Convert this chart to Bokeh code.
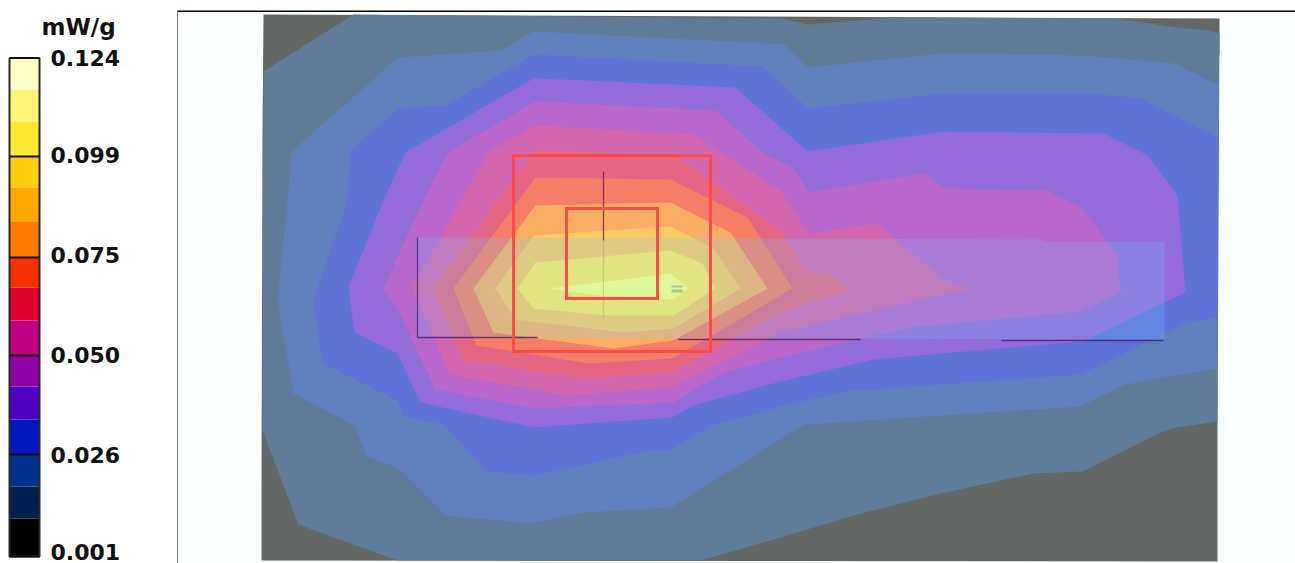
from bokeh.plotting import figure
from bokeh.layouts import row
from bokeh.models import Range1d, Span
from bokeh.core.properties import value
from bokeh.embed import file_html
from bokeh.resources import INLINE

# colour scale (mW/g)
band_edges = [0.12400, 0.11623, 0.10833, 0.09970, 0.09205, 0.08353, 0.07478, 0.06737,
              0.05923, 0.05059, 0.04295, 0.03480, 0.02617, 0.01827, 0.01037, 0.00100]
band_colors = ["#FFFFC8", "#FFF578", "#FFE830", "#FFCC10", "#FFA800", "#FF7800", "#F83000",
               "#E00030", "#C00080", "#9000A8", "#5000C0", "#0018C0", "#003090", "#002050", "#000000"]
tick_values = [0.12400, 0.09970, 0.07478, 0.05059, 0.02617, 0.00100]
tick_labels = ["0.124", "0.099", "0.075", "0.050", "0.026", "0.001"]
tick_label_at = [0.12400, 0.10000, 0.07530, 0.05080, 0.02610, 0.00223]
unit_label = "mW/g"

# measured field: nested iso-contours, outermost first
field_x = [263, 1219, 1219, 1217, 1217, 261, 261, 262]
field_y = [14, 18, 53, 53, 561, 560, 493, 131]
field_color = "#636866"

level_colors = ["#617C99", "#6080BE", "#6074D8", "#946CD8", "#B866CC", "#D166AE", "#E56682",
                "#F67E66", "#F9AE66", "#F9CA66", "#FDE965", "#FDFF80"]

c1_x = [263, 353, 780, 808, 857, 897, 1113, 1177, 1208, 1219, 1217, 1175, 1158, 1082, 1033, 940, 853, 780, 700, 397, 298, 262]
c1_y = [71, 14, 18, 24, 20, 17, 18, 27, 30, 33, 421, 427, 433, 471, 473, 493, 515, 537, 560, 560, 524, 430]
c2_x = [533, 553, 768, 783, 808, 940, 980, 1080, 1175, 1218, 1217, 1125, 1080, 807, 798, 780, 670, 583, 530, 444, 397, 366, 354, 293, 277, 287, 291, 398, 500]
c2_y = [31, 32, 43, 43, 67, 53, 53, 55, 63, 85, 368, 384, 406, 424, 427, 439, 507, 512, 523, 515, 467, 456, 425, 393, 300, 200, 151, 57, 50]
c3_x = [533, 762, 808, 943, 1090, 1140, 1218, 1217, 1187, 1080, 843, 780, 710, 670, 648, 534, 486, 444, 405, 397, 322, 313, 347, 350, 398, 445]
c3_y = [54, 66, 108, 93, 93, 98, 137, 317, 322, 374, 391, 406, 425, 450, 450, 475, 471, 424, 417, 400, 363, 300, 200, 150, 108, 105]
c4_x = [533, 563, 735, 807, 943, 1103, 1147, 1177, 1185, 1185, 1082, 998, 873, 780, 692, 672, 544, 534, 420, 397, 354, 348, 383, 405]
c4_y = [78, 79, 87, 151, 131, 133, 155, 195, 290, 292, 341, 348, 359, 381, 405, 417, 426, 427, 402, 353, 332, 287, 200, 152]
c5_x = [535, 715, 763, 792, 808, 925, 943, 1047, 1082, 1117, 1120, 1080, 908, 780, 724, 672, 534, 435, 397, 383, 423, 447]
c5_y = [101, 110, 153, 167, 192, 173, 188, 190, 208, 255, 292, 311, 327, 357, 372, 402, 408, 389, 308, 288, 200, 152]
c6_x = [535, 693, 780, 808, 877, 942, 973, 947, 780, 670, 565, 449, 412, 487]
c6_y = [125, 134, 190, 233, 223, 278, 290, 293, 332, 387, 395, 374, 288, 152]
c7_x = [535, 563, 677, 780, 808, 827, 848, 780, 672, 585, 463, 432]
c7_y = [149, 150, 157, 230, 273, 272, 289, 312, 372, 378, 360, 288]
c8_x = [535, 670, 747, 792, 672, 589, 476, 453]
c8_y = [177, 179, 217, 288, 358, 363, 345, 288]
c9_x = [535, 670, 730, 767, 673, 613, 493, 473]
c9_y = [205, 202, 232, 288, 340, 348, 332, 288]
c10_x = [533, 670, 713, 740, 673, 623, 515, 495]
c10_y = [235, 226, 248, 288, 328, 332, 319, 288]
c11_x = [535, 670, 702, 715, 673, 607, 533, 517]
c11_y = [262, 250, 263, 288, 315, 315, 308, 288]
c12_x = [548, 670, 688, 673, 600]
c12_y = [288, 273, 288, 299, 295]
contours = [(c1_x, c1_y), (c2_x, c2_y), (c3_x, c3_y), (c4_x, c4_y), (c5_x, c5_y), (c6_x, c6_y),
            (c7_x, c7_y), (c8_x, c8_y), (c9_x, c9_y), (c10_x, c10_y), (c11_x, c11_y), (c12_x, c12_y)]

# phantom outline and the two averaging cubes
slab_x = [417, 1042, 1042, 1164, 1164, 417]
slab_y = [237, 239, 241, 241, 339, 337]
slab_edge_x0 = [417, 417, 678, 1001]
slab_edge_y0 = [237, 337, 339, 340]
slab_edge_x1 = [417, 537, 860, 1163]
slab_edge_y1 = [337, 337, 339, 340]
probe_x = [603, 603]
probe_y_dark = [171, 240]
probe_y_faint = [240, 317]
cube_left = [513, 566]
cube_right = [710, 657]
cube_top = [155, 208]
cube_bottom = [351, 298]
peak_left = [671, 671]
peak_right = [682, 682]
peak_top = [285, 289]
peak_bottom = [287, 292]

# colour bar
v_per_px = 0.123 / 498.5
bar = figure(width=177, height=563, x_range=Range1d(0, 177),
             y_range=Range1d(0.124 - 505.5 * v_per_px, 0.124 + 47.5 * v_per_px),
             toolbar_location=None, output_backend="svg", x_axis_location=None,
             y_axis_location=None, min_border=0, outline_line_color=None)
bar.grid.visible = False
bar.quad(left=9, right=39, top=band_edges[:-1], bottom=band_edges[1:], fill_color=band_colors, line_color=None)
bar.quad(left=9, right=39, top=band_edges[0], bottom=band_edges[-1], fill_color=None, line_color="#2a2a2a", line_width=2)
bar.segment(x0=[9] * len(tick_values), y0=tick_values, x1=[39] * len(tick_values), y1=tick_values,
            line_color="#101010", line_width=2)
bar.text(x=[50] * len(tick_values), y=tick_label_at, text=tick_labels,
         text_font=value("DejaVu Sans"), text_font_style="bold", text_font_size="22px",
         text_color="#111111", text_baseline="middle")
bar.text(x=[41], y=[0.124 + 31 * v_per_px], text=[unit_label],
         text_font=value("DejaVu Sans"), text_font_style="bold", text_font_size="23px",
         text_color="#111111", text_baseline="middle")

# field plot
p = figure(width=1118, height=563, x_range=Range1d(177, 1295), y_range=Range1d(563, 10),
           toolbar_location=None, output_backend="svg", x_axis_location=None, y_axis_location=None,
           min_border_left=0, min_border_right=0, min_border_top=10, min_border_bottom=0,
           outline_line_color=None, background_fill_color="#F9FFFE", border_fill_color="white")
p.grid.visible = False
p.patch(field_x, field_y, fill_color=field_color, line_color=None)
for (cx, cy), col in zip(contours, level_colors):
    p.patch(cx, cy, fill_color=col, line_color=None)
p.patch(slab_x, slab_y, fill_color="#6CD0FF", fill_alpha=0.2, line_color=None)
p.segment(slab_edge_x0, slab_edge_y0, slab_edge_x1, slab_edge_y1, line_color="#3A1A60", line_alpha=0.7, line_width=1.3)
p.line(probe_x, probe_y_dark, line_color="#701850", line_alpha=0.75, line_width=1.3)
p.line(probe_x, probe_y_faint, line_color="#A09050", line_alpha=0.35, line_width=1.2)
p.quad(left=peak_left, right=peak_right, top=peak_top, bottom=peak_bottom, fill_color="#A8C890", line_color=None)
p.quad(left=cube_left, right=cube_right, top=cube_top, bottom=cube_bottom, fill_color=None,
       line_color="#FF4A4A", line_width=3, line_join="miter")
p.add_layout(Span(location=176.5, dimension="height", line_color="black", line_width=2))
p.add_layout(Span(location=10.5, dimension="width", line_color="black", line_width=2))

page = row(bar, p, spacing=0)
open("out.html", "w").write(file_html(page, INLINE))
